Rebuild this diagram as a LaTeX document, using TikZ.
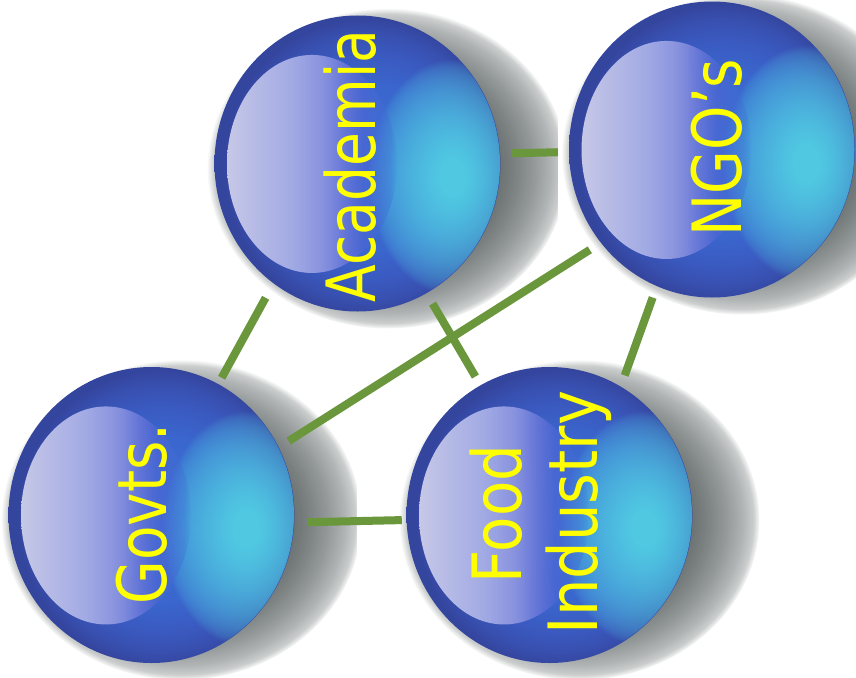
\documentclass[tikz,border=0pt]{standalone}
\usepackage{graphicx}
\usepackage{fontspec}
\setmainfont{DejaVu Sans}
\usetikzlibrary{shapes.geometric,fadings}

\definecolor{spA}{HTML}{3B72D4}
\definecolor{spB}{HTML}{3A66CD}
\definecolor{spC}{HTML}{3A5AC0}
\definecolor{spD}{HTML}{3850B0}
\definecolor{spE}{HTML}{34459E}
\definecolor{glowcyan}{HTML}{50C8E2}
\definecolor{shadowcol}{HTML}{1E2828}
\definecolor{hlA}{HTML}{C6C8E6}
\definecolor{hlB}{HTML}{BCC0E6}
\definecolor{hlC}{HTML}{A2AAE4}
\definecolor{hlD}{HTML}{8A94DE}
\definecolor{hlE}{HTML}{6676D8}
\definecolor{hlF}{HTML}{4C66D4}
\definecolor{hlG}{HTML}{3C70D4}
\definecolor{linkgreen}{HTML}{6A963C}
\definecolor{lblyellow}{HTML}{FFFF00}
\definecolor{mkA}{gray}{0.877}
\definecolor{mkB}{gray}{0.730}
\definecolor{mkC}{gray}{0.532}
\definecolor{mkD}{gray}{0.351}
\definecolor{mkE}{gray}{0.2}

% shadings: the path's bounding box covers the central 50bp (radial edge = 25bp)
\pgfdeclareradialshading{sphereshade}{\pgfpoint{3bp}{-1bp}}{color(0bp)=(spA); color(14bp)=(spB); color(19bp)=(spC); color(22.5bp)=(spD); color(25bp)=(spE); color(50bp)=(spE)}
\pgfdeclarehorizontalshading{hlshade}{100bp}{color(0bp)=(hlA); color(25bp)=(hlA); color(30bp)=(hlB); color(44bp)=(hlC); color(52.5bp)=(hlD); color(60bp)=(hlE); color(65bp)=(hlF); color(75bp)=(hlG); color(100bp)=(hlG)}

% fadings (white = opaque, black = transparent); edge of the path = 25bp
\pgfdeclareradialshading{shadowmask}{\pgfpointorigin}{color(0bp)=(white); color(15.5bp)=(white); color(17.9bp)=(mkA); color(20.25bp)=(mkB); color(22.6bp)=(mkC); color(24.05bp)=(mkD); color(25bp)=(black); color(50bp)=(black)}
\pgfdeclarefading{shadowfade}{\pgfuseshading{shadowmask}}
\pgfdeclareradialshading{glowmask}{\pgfpointorigin}{color(0bp)=(white); color(4bp)=(white); color(8.5bp)=(mkA); color(13bp)=(mkB); color(18bp)=(mkC); color(21.5bp)=(mkD); color(23.5bp)=(mkE); color(25bp)=(black); color(50bp)=(black)}
\pgfdeclarefading{glowfade}{\pgfuseshading{glowmask}}
\pgfdeclarehorizontalshading{hlmask}{100bp}{color(0bp)=(white); color(56bp)=(white); color(61bp)=(mkA); color(65.5bp)=(mkB); color(70bp)=(mkC); color(73bp)=(mkD); color(75bp)=(black); color(100bp)=(black)}
\pgfdeclarefading{hlfade}{\pgfuseshading{hlmask}}

\tikzset{
  sphere/.style={ellipse, minimum width=286pt, minimum height=296pt, inner sep=0pt, shade, shading=sphereshade},
  link/.style={draw=linkgreen, line width=8pt, line cap=butt},
  lbl/.style={rotate=90, text=lblyellow, font=\fontsize{68}{76}\selectfont, inner sep=0pt, anchor=base}
}

\newcommand\mysphere[2]{%
  \fill[shadowcol, opacity=0.65, path fading=shadowfade] ([shift={(30,5)}]#2) ellipse [x radius=180pt, y radius=160pt];
  \node[sphere] (#1) at (#2) {};
  \begin{scope}
    \clip (#1.center) ellipse [x radius=142.5pt, y radius=147.5pt];
    \fill[glowcyan, path fading=glowfade] ([shift={(94.5,13.5)}]#1.center) ellipse [x radius=84pt, y radius=118pt];
  \end{scope}
  \shade[shading=hlshade, path fading=hlfade] ([shift={(-45.5,0.5)}]#1.center) ellipse [x radius=85pt, y radius=109pt];
}

\begin{document}
\begin{tikzpicture}[x=1pt, y=-1pt]
\useasboundingbox (0,0) rectangle (856,677);
\fill[white] (0,0) rectangle (856,677);

\coordinate (cA) at (357.5,163.5);
\coordinate (cN) at (712,149.5);
\coordinate (cG) at (151.5,515);
\coordinate (cF) at (549.5,515);

\mysphere{acad}{cA}
\fill[white] (558,0) rectangle (856,320);
\mysphere{ngo}{cN}
\mysphere{govts}{cG}
\fill[white] (357,360) rectangle (856,677);
\mysphere{food}{cF}

\draw[link, shorten <=10.9pt, shorten >=11pt] (acad.4.2) -- (ngo.181.4);
\draw[link, shorten <=16.3pt, shorten >=7pt] (acad.235.3) -- (govts.63.8);
\draw[link, shorten <=13pt, shorten >=11.6pt] (ngo.220.7) -- (govts.28.5);
\draw[link, shorten <=11.9pt, shorten >=10pt] (acad.298.3) -- (food.118.3);
\draw[link, shorten <=12pt, shorten >=11.7pt] (ngo.248.7) -- (food.61.4);
\draw[link, shorten <=12.6pt, shorten >=4.6pt] (govts.357.6) -- (food.182.4);

\node[lbl] (tacad) at (375,166) {\scalebox{0.81}[1]{Academia}};
\node[lbl] (tngo) at (741.7,147.5) {\scalebox{0.83}[1]{NGO’s}};
\node[lbl] (tgovts) at (166.7,514) {\scalebox{0.83}[1]{Govts.}};
\node[lbl] (tfood) at (521.7,514) {\scalebox{0.85}[1]{Food}};
\node[lbl] (tind) at (597.3,512.5) {\scalebox{0.87}[1]{Industry}};
\end{tikzpicture}
\end{document}
